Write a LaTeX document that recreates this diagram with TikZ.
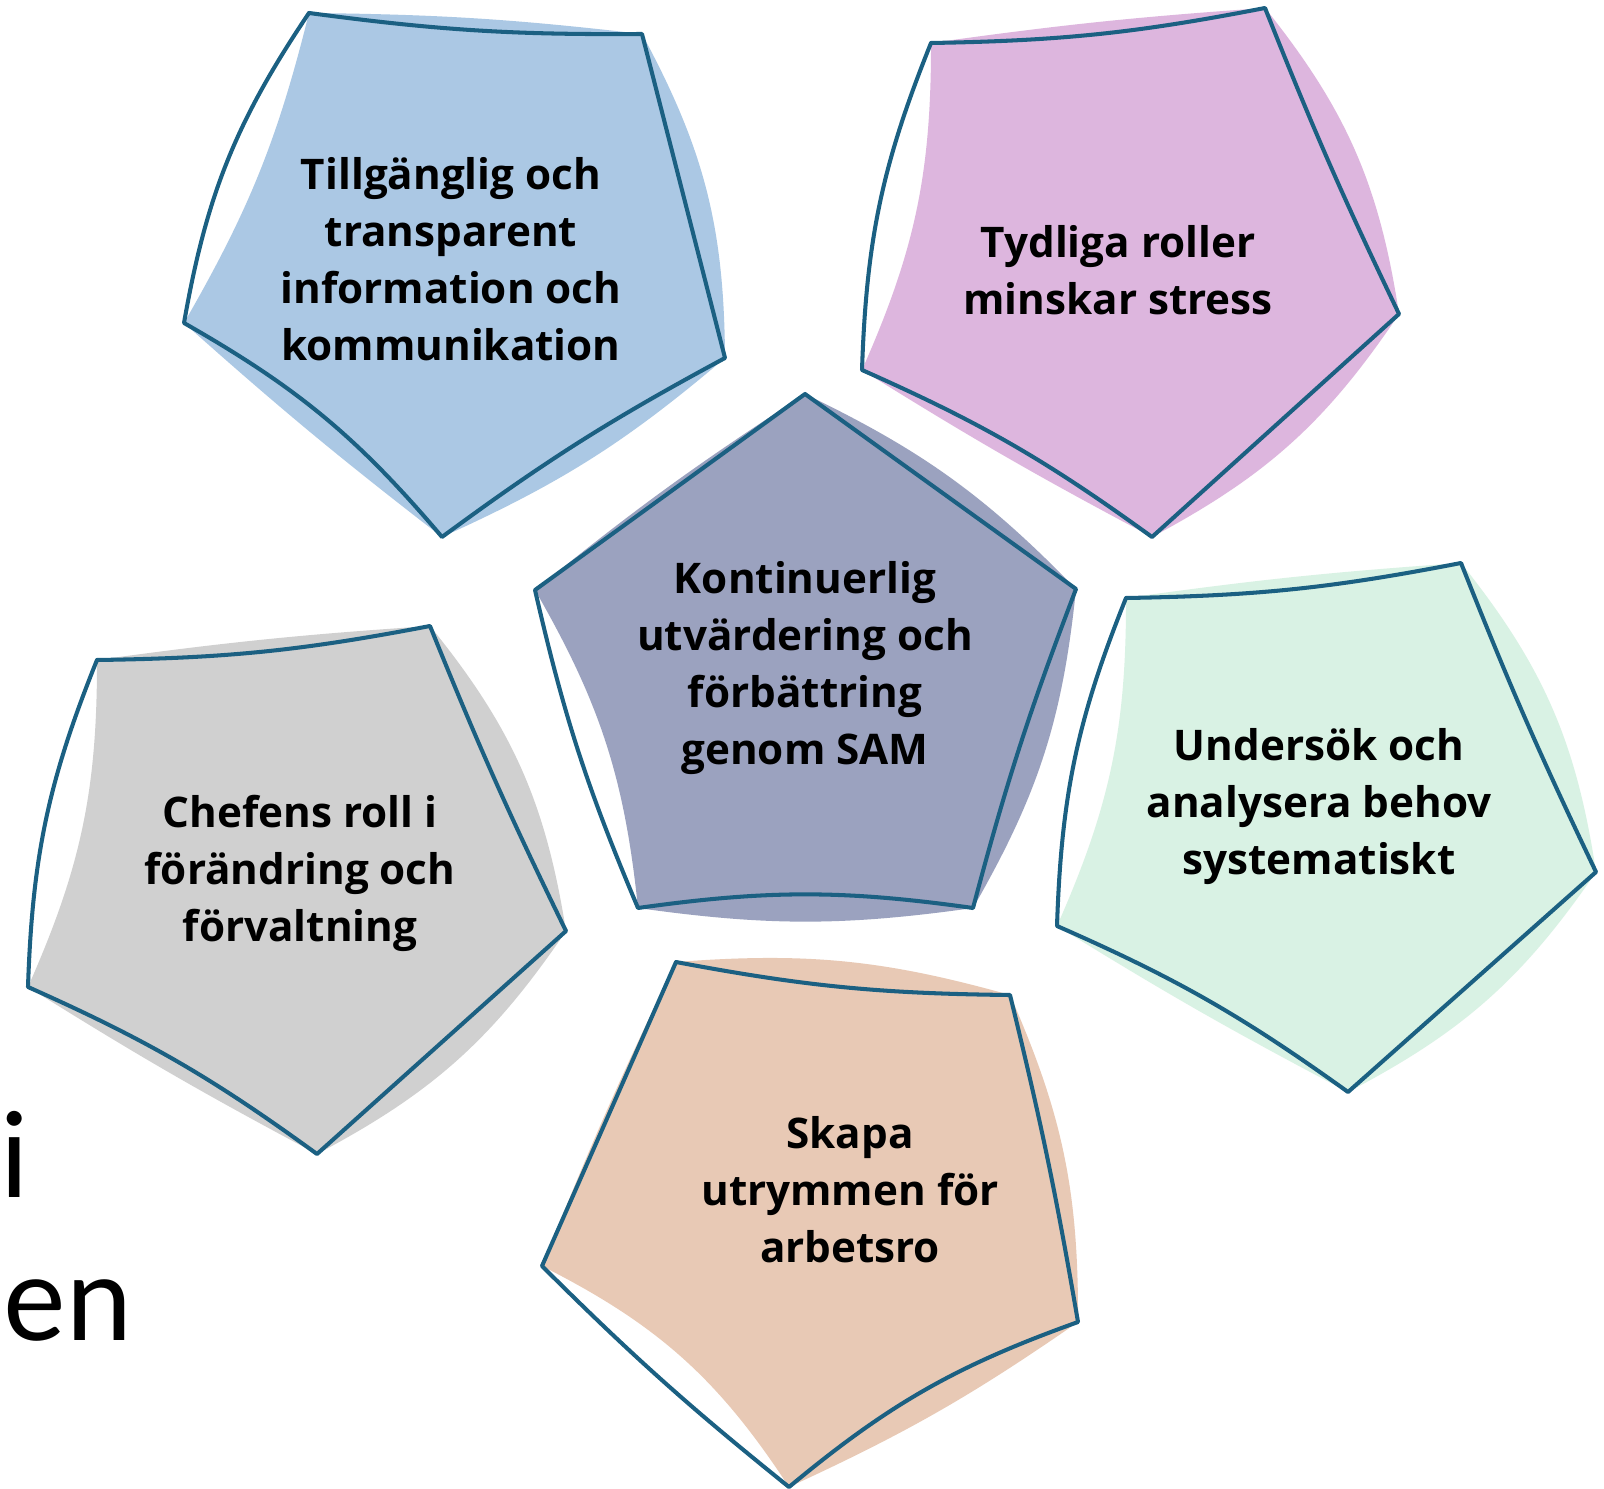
\documentclass[tikz,border=0pt]{standalone}
\usepackage{fontspec}
\setmainfont{Open Sans}
\newfontfamily\slidefont{Lato}
\usepackage{xcolor}
\usepackage{tikz}
\definecolor{SketchLine}{HTML}{1B6082}
\definecolor{InfoBlue}{HTML}{ABC8E4}
\definecolor{RolePurple}{HTML}{DDB6DE}
\definecolor{SamSlate}{HTML}{9BA2BF}
\definecolor{ChiefGray}{HTML}{D0D0D0}
\definecolor{NeedsGreen}{HTML}{D9F2E4}
\definecolor{CalmPeach}{HTML}{E8C9B5}

\begin{document}
\begin{tikzpicture}[x=0.01cm, y=-0.01cm,
                    pentext/.style={align=center, font=\bfseries\fontsize{12}{16.2}\selectfont},
                    sidetext/.style={anchor=base west, inner sep=0pt, font=\slidefont\fontsize{33.6}{40}\selectfont},
                    outline/.style={draw=SketchLine, line width=1.15pt, line join=round, line cap=round}]
\fill[white] (0,0) rectangle (1604,1489);
\useasboundingbox (0,0) rectangle (1604,1489);

% corners, clockwise from the upper left one
\coordinate (b1) at (309,13);   \coordinate (b2) at (642,34);   \coordinate (b3) at (725,358);
\coordinate (b4) at (442,537);  \coordinate (b5) at (184,323);
\coordinate (p1) at (931,43);   \coordinate (p2) at (1265,8);   \coordinate (p3) at (1399,314);
\coordinate (p4) at (1152,537); \coordinate (p5) at (862,370);
\coordinate (c1) at (805,394);  \coordinate (c2) at (1076,589); \coordinate (c3) at (973,908);
\coordinate (c4) at (638,908);  \coordinate (c5) at (535,590);
\coordinate (g1) at (97,660);   \coordinate (g2) at (430,626);  \coordinate (g3) at (566,931);
\coordinate (g4) at (317,1154); \coordinate (g5) at (28,987);
\coordinate (n1) at (1126,598); \coordinate (n2) at (1461,563); \coordinate (n3) at (1596,872);
\coordinate (n4) at (1348,1092);\coordinate (n5) at (1057,926);
\coordinate (s1) at (676,962);  \coordinate (s2) at (1010,995); \coordinate (s3) at (1078,1322);
\coordinate (s4) at (789,1487); \coordinate (s5) at (542,1266);

% painted fills
\fill[InfoBlue] (b1) to[bend left=3] (b2) to[bend left=14] (b3) to[bend left=8] (b4)
  to[bend left=2] (b5) to[bend right=8] (b1);
\fill[RolePurple] (p1) to[bend left=2] (p2) to[bend left=15] (p3) to[bend left=14] (p4)
  to[bend left=2] (p5) to[bend right=12] (p1);
\fill[SamSlate] (c1) to[bend left=10] (c2) to[bend left=12] (c3) to[bend left=8] (c4)
  to[bend right=12] (c5) to[bend left=3] (c1);
\fill[ChiefGray] (g1) to[bend left=2] (g2) to[bend left=15] (g3) to[bend left=14] (g4)
  to[bend left=2] (g5) to[bend right=12] (g1);
\fill[NeedsGreen] (n1) to[bend left=2] (n2) to[bend left=15] (n3) to[bend left=14] (n4)
  to[bend left=2] (n5) to[bend right=12] (n1);
\fill[CalmPeach] (s1) to[bend left=10] (s2) to[bend left=12] (s3) to[bend left=5] (s4)
  to[bend right=15] (s5) to[bend left=2] (s1);

% sketchy outlines
\draw[outline] (b1) to[bend right=4] (b2) -- (b3) to[bend right=4] (b4)
  to[bend right=10] (b5) to[bend left=12] (b1);
\draw[outline] (p1) to[bend right=5] (p2) to[bend right=2] (p3) -- (p4)
  to[bend right=6] (p5) to[bend left=10] (p1);
\draw[outline] (c1) -- (c2) to[bend right=3] (c3) to[bend right=8] (c4)
  to[bend left=5] (c5) -- (c1);
\draw[outline] (g1) to[bend right=5] (g2) to[bend right=2] (g3) -- (g4)
  to[bend right=6] (g5) to[bend left=10] (g1);
\draw[outline] (n1) to[bend right=5] (n2) to[bend right=2] (n3) -- (n4)
  to[bend right=6] (n5) to[bend left=10] (n1);
\draw[outline] (s1) to[bend right=5] (s2) to[bend left=2] (s3) to[bend right=10] (s4)
  to[bend left=3] (s5) -- (s1);

\node[pentext] (info) at (451,259) {Tillgänglig och\\transparent\\information och\\kommunikation};
\node[pentext] (roles) at (1118,270) {Tydliga roller\\minskar stress};
\node[pentext] (sam) at (805,668) {Kontinuerlig\\utvärdering och\\förbättring\\genom SAM};
\node[pentext] (chief) at (300,873) {Chefens roll i\\förändring och\\förvaltning};
\node[pentext] (needs) at (1319,807) {Undersök och\\analysera behov\\systematiskt};
\node[pentext] (calm) at (850,1190) {Skapa\\utrymmen för\\arbetsro};

% cut-off slide text on the left edge
\node[sidetext] (sidei) at (0,1197) {i};
\node[sidetext] (sideen) at (3,1340) {en};
\end{tikzpicture}
\end{document}
